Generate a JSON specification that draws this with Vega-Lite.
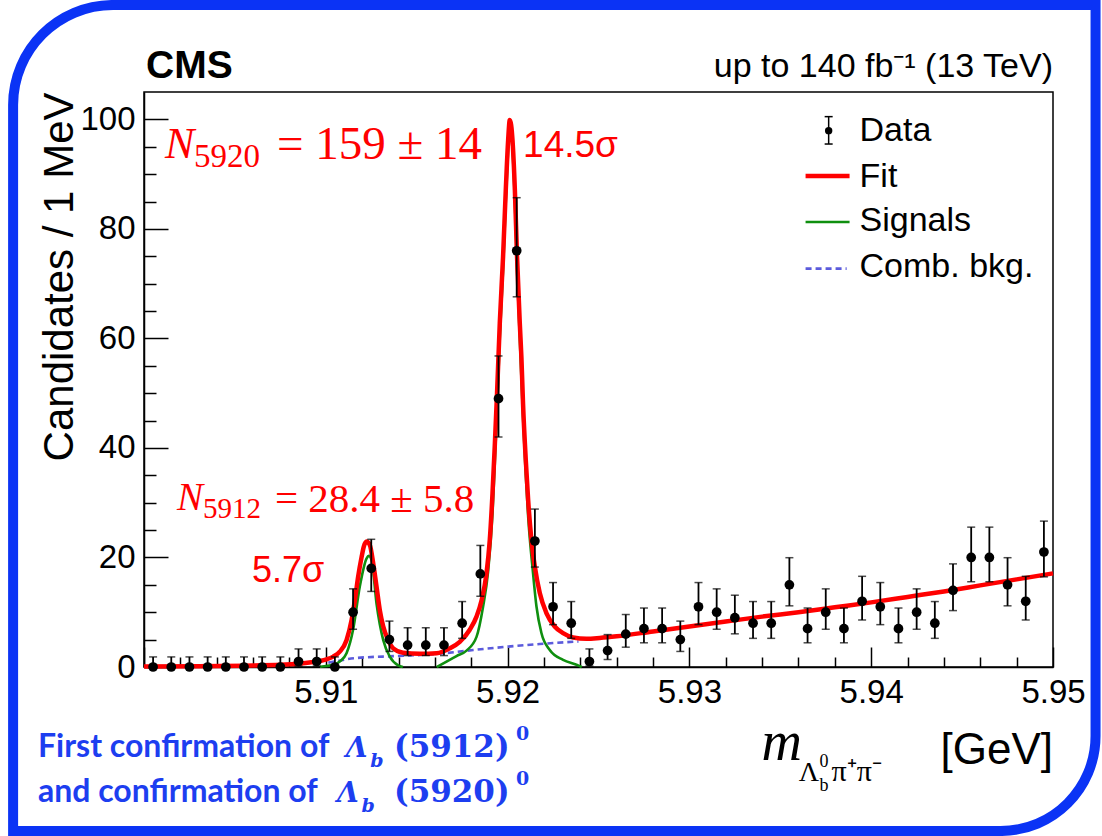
{
  "$schema": "https://vega.github.io/schema/vega-lite/v6.json",
  "width": 909,
  "height": 575,
  "autosize": {"type": "none"},
  "padding": {"left": 144, "top": 92, "right": 49, "bottom": 169},
  "background": "white",
  "config": {
    "view": {"stroke": "black", "strokeWidth": 1.5},
    "font": "Liberation Sans",
    "axis": {"labelOverlap": false}
  },
  "datasets": {
    "one": [{}],
    "pts": [
      {"m": 5.9005, "n": 0, "lo": 0, "hi": 1.841},
      {"m": 5.9015, "n": 0, "lo": 0, "hi": 1.841},
      {"m": 5.9025, "n": 0, "lo": 0, "hi": 1.841},
      {"m": 5.9035, "n": 0, "lo": 0, "hi": 1.841},
      {"m": 5.9045, "n": 0, "lo": 0, "hi": 1.841},
      {"m": 5.9055, "n": 0, "lo": 0, "hi": 1.841},
      {"m": 5.9065, "n": 0, "lo": 0, "hi": 1.841},
      {"m": 5.9075, "n": 0, "lo": 0, "hi": 1.841},
      {"m": 5.9085, "n": 1, "lo": 0.173, "hi": 3.3},
      {"m": 5.9095, "n": 1, "lo": 0.173, "hi": 3.3},
      {"m": 5.9105, "n": 0, "lo": 0, "hi": 1.841},
      {"m": 5.9115, "n": 10, "lo": 6.891, "hi": 14.27},
      {"m": 5.9125, "n": 18, "lo": 13.8, "hi": 23.32},
      {"m": 5.9135, "n": 5, "lo": 2.84, "hi": 8.382},
      {"m": 5.9145, "n": 4, "lo": 2.086, "hi": 7.163},
      {"m": 5.9155, "n": 4, "lo": 2.086, "hi": 7.163},
      {"m": 5.9165, "n": 4, "lo": 2.086, "hi": 7.163},
      {"m": 5.9175, "n": 8, "lo": 5.232, "hi": 11.95},
      {"m": 5.9185, "n": 17, "lo": 12.92, "hi": 22.2},
      {"m": 5.9195, "n": 49, "lo": 42.0, "hi": 56.8},
      {"m": 5.9205, "n": 76, "lo": 67.6, "hi": 85.7},
      {"m": 5.9215, "n": 23, "lo": 18.25, "hi": 28.84},
      {"m": 5.9225, "n": 11, "lo": 7.734, "hi": 15.42},
      {"m": 5.9235, "n": 8, "lo": 5.232, "hi": 11.95},
      {"m": 5.9245, "n": 1, "lo": 0.173, "hi": 3.3},
      {"m": 5.9255, "n": 3, "lo": 1.367, "hi": 5.918},
      {"m": 5.9265, "n": 6, "lo": 3.62, "hi": 9.584},
      {"m": 5.9275, "n": 7, "lo": 4.419, "hi": 10.77},
      {"m": 5.9285, "n": 7, "lo": 4.419, "hi": 10.77},
      {"m": 5.9295, "n": 5, "lo": 2.84, "hi": 8.382},
      {"m": 5.9305, "n": 11, "lo": 7.734, "hi": 15.42},
      {"m": 5.9315, "n": 10, "lo": 6.891, "hi": 14.27},
      {"m": 5.9325, "n": 9, "lo": 6.057, "hi": 13.11},
      {"m": 5.9335, "n": 8, "lo": 5.232, "hi": 11.95},
      {"m": 5.9345, "n": 8, "lo": 5.232, "hi": 11.95},
      {"m": 5.9355, "n": 15, "lo": 11.17, "hi": 19.96},
      {"m": 5.9365, "n": 7, "lo": 4.419, "hi": 10.77},
      {"m": 5.9375, "n": 10, "lo": 6.891, "hi": 14.27},
      {"m": 5.9385, "n": 7, "lo": 4.419, "hi": 10.77},
      {"m": 5.9395, "n": 12, "lo": 8.585, "hi": 16.56},
      {"m": 5.9405, "n": 11, "lo": 7.734, "hi": 15.42},
      {"m": 5.9415, "n": 7, "lo": 4.419, "hi": 10.77},
      {"m": 5.9425, "n": 10, "lo": 6.891, "hi": 14.27},
      {"m": 5.9435, "n": 8, "lo": 5.232, "hi": 11.95},
      {"m": 5.9445, "n": 14, "lo": 10.3, "hi": 18.83},
      {"m": 5.9455, "n": 20, "lo": 15.57, "hi": 25.54},
      {"m": 5.9465, "n": 20, "lo": 15.57, "hi": 25.54},
      {"m": 5.9475, "n": 15, "lo": 11.17, "hi": 19.96},
      {"m": 5.9485, "n": 12, "lo": 8.585, "hi": 16.56},
      {"m": 5.9495, "n": 21, "lo": 16.46, "hi": 26.64}
    ],
    "fit": [
      {"m": 5.9, "v": 0.1}, {"m": 5.903, "v": 0.15}, {"m": 5.9055, "v": 0.25}, {"m": 5.9075, "v": 0.4},
      {"m": 5.9085, "v": 0.6}, {"m": 5.9092, "v": 0.85}, {"m": 5.90968, "v": 1.1}, {"m": 5.91004, "v": 1.4},
      {"m": 5.91041, "v": 1.9}, {"m": 5.91077, "v": 2.8}, {"m": 5.91114, "v": 4.9}, {"m": 5.91142, "v": 8.6},
      {"m": 5.9116, "v": 12.2}, {"m": 5.91178, "v": 16.5}, {"m": 5.91197, "v": 20.1}, {"m": 5.91209, "v": 22.0},
      {"m": 5.91224, "v": 22.9}, {"m": 5.91242, "v": 22.3}, {"m": 5.91261, "v": 18.9}, {"m": 5.91279, "v": 14.7},
      {"m": 5.91297, "v": 10.4}, {"m": 5.91316, "v": 7.4}, {"m": 5.91343, "v": 4.9}, {"m": 5.91371, "v": 3.4},
      {"m": 5.91425, "v": 2.6}, {"m": 5.91517, "v": 2.4}, {"m": 5.91609, "v": 2.5}, {"m": 5.91682, "v": 3.4},
      {"m": 5.91737, "v": 4.6}, {"m": 5.91792, "v": 6.8}, {"m": 5.91829, "v": 9.2}, {"m": 5.91857, "v": 12.2},
      {"m": 5.91884, "v": 17.1}, {"m": 5.91902, "v": 23.2}, {"m": 5.91917, "v": 31.7}, {"m": 5.9193, "v": 40.8},
      {"m": 5.91942, "v": 50}, {"m": 5.91957, "v": 62.8}, {"m": 5.91975, "v": 74.9}, {"m": 5.9199, "v": 87.1},
      {"m": 5.92003, "v": 96.2}, {"m": 5.92012, "v": 99.9}, {"m": 5.92027, "v": 96.2}, {"m": 5.9204, "v": 87.1},
      {"m": 5.92052, "v": 74.9}, {"m": 5.92067, "v": 62.8}, {"m": 5.92076, "v": 56.5}, {"m": 5.92085, "v": 48},
      {"m": 5.921, "v": 37.8}, {"m": 5.92113, "v": 30.5}, {"m": 5.92131, "v": 23.2}, {"m": 5.9215, "v": 18.3},
      {"m": 5.92177, "v": 13.5}, {"m": 5.92214, "v": 9.8}, {"m": 5.92259, "v": 7.4}, {"m": 5.92305, "v": 6.2},
      {"m": 5.9236, "v": 5.4}, {"m": 5.92434, "v": 5.15}, {"m": 5.92507, "v": 5.3}, {"m": 5.926, "v": 5.6},
      {"m": 5.928, "v": 6.5}, {"m": 5.93, "v": 7.4}, {"m": 5.932, "v": 8.3}, {"m": 5.934, "v": 9.2},
      {"m": 5.936, "v": 10.0}, {"m": 5.938, "v": 10.9}, {"m": 5.94, "v": 11.8}, {"m": 5.942, "v": 12.8},
      {"m": 5.944, "v": 13.8}, {"m": 5.946, "v": 14.9}, {"m": 5.948, "v": 16.0}, {"m": 5.95, "v": 17.1}
    ],
    "sig": [
      {"p": "a", "m": 5.90968, "v": 0.05}, {"p": "a", "m": 5.91041, "v": 0.4}, {"p": "a", "m": 5.91077, "v": 1.0},
      {"p": "a", "m": 5.91114, "v": 2.5}, {"p": "a", "m": 5.9115, "v": 6.8}, {"p": "a", "m": 5.91187, "v": 14.7},
      {"p": "a", "m": 5.91224, "v": 19.8}, {"p": "a", "m": 5.91237, "v": 20.3}, {"p": "a", "m": 5.91252, "v": 19.5},
      {"p": "a", "m": 5.91279, "v": 11.6}, {"p": "a", "m": 5.91316, "v": 4.9}, {"p": "a", "m": 5.91352, "v": 1.9},
      {"p": "a", "m": 5.91398, "v": 0.3}, {"p": "a", "m": 5.91424, "v": 0.0},
      {"p": "b", "m": 5.9161, "v": 0.0}, {"p": "b", "m": 5.91664, "v": 1.0}, {"p": "b", "m": 5.91719, "v": 2.0},
      {"p": "b", "m": 5.91774, "v": 3.0}, {"p": "b", "m": 5.91829, "v": 5.5}, {"p": "b", "m": 5.91865, "v": 11},
      {"p": "b", "m": 5.91893, "v": 17.5}, {"p": "b", "m": 5.91917, "v": 28}, {"p": "b", "m": 5.9193, "v": 37.5},
      {"p": "b", "m": 5.91942, "v": 47}, {"p": "b", "m": 5.91957, "v": 60}, {"p": "b", "m": 5.91975, "v": 72.5},
      {"p": "b", "m": 5.9199, "v": 85}, {"p": "b", "m": 5.92003, "v": 94.5}, {"p": "b", "m": 5.92012, "v": 99.6},
      {"p": "b", "m": 5.92027, "v": 94.5}, {"p": "b", "m": 5.9204, "v": 85}, {"p": "b", "m": 5.92052, "v": 72.5},
      {"p": "b", "m": 5.92067, "v": 60}, {"p": "b", "m": 5.92085, "v": 45.5}, {"p": "b", "m": 5.921, "v": 35},
      {"p": "b", "m": 5.92113, "v": 27.5}, {"p": "b", "m": 5.9214, "v": 17.1}, {"p": "b", "m": 5.92159, "v": 11},
      {"p": "b", "m": 5.92186, "v": 6.2}, {"p": "b", "m": 5.92232, "v": 3.1}, {"p": "b", "m": 5.92305, "v": 1.3},
      {"p": "b", "m": 5.92379, "v": 0.4}, {"p": "b", "m": 5.92408, "v": 0.0}
    ],
    "bkg": [
      {"m": 5.91014, "v": 0.8}, {"m": 5.9105, "v": 1.0}, {"m": 5.91154, "v": 1.6}, {"m": 5.91389, "v": 2.0},
      {"m": 5.91572, "v": 2.3}, {"m": 5.91719, "v": 2.75}, {"m": 5.91811, "v": 3.1}, {"m": 5.91995, "v": 3.7},
      {"m": 5.92177, "v": 4.2}, {"m": 5.9236, "v": 4.6}, {"m": 5.9239, "v": 4.65}
    ]
  },
  "resolve": {"axis": {"x": "independent", "y": "independent"}},
  "layer": [
    {
      "layer": [
        {
          "data": {"name": "one"},
          "mark": {"type": "rect", "fillOpacity": 0, "stroke": "#0b33f5", "strokeWidth": 10, "cornerRadiusTopLeft": 100, "cornerRadiusBottomRight": 95},
          "encoding": {
            "x": {"datum": 5.8928, "type": "quantitative"},
            "x2": {"datum": 5.95234},
            "y": {"datum": 120.89, "type": "quantitative"},
            "y2": {"datum": -29.95}
          }
        },
        {
          "data": {"name": "bkg"},
          "mark": {"type": "line", "color": "#5b5bdc", "strokeWidth": 2.6, "strokeDash": [6, 4], "interpolate": "monotone"},
          "encoding": {
            "x": {"field": "m", "type": "quantitative"},
            "y": {"field": "v", "type": "quantitative"}
          }
        },
        {
          "data": {"name": "sig"},
          "mark": {"type": "line", "color": "#0f8f0f", "strokeWidth": 2.6, "interpolate": "monotone"},
          "encoding": {
            "x": {"field": "m", "type": "quantitative"},
            "y": {"field": "v", "type": "quantitative"},
            "detail": {"field": "p"}
          }
        },
        {
          "data": {"name": "fit"},
          "mark": {"type": "line", "color": "#ff0000", "strokeWidth": 4.5, "interpolate": "monotone"},
          "encoding": {
            "x": {"field": "m", "type": "quantitative"},
            "y": {"field": "v", "type": "quantitative"}
          }
        },
        {
          "data": {"name": "pts"},
          "mark": {"type": "errorbar", "color": "black", "ticks": {"size": 8, "thickness": 1.5, "color": "black"}, "rule": {"strokeWidth": 1.8}},
          "encoding": {
            "x": {"field": "m", "type": "quantitative", "title": null},
            "y": {"field": "lo", "type": "quantitative", "title": "Candidates / 1 MeV"},
            "y2": {"field": "hi"}
          }
        },
        {
          "data": {"name": "pts"},
          "mark": {"type": "point", "filled": true, "color": "black", "size": 95, "opacity": 1},
          "encoding": {
            "x": {
              "field": "m", "type": "quantitative", "title": null,
              "scale": {"domain": [5.9, 5.95], "nice": false, "zero": false},
              "axis": {
                "orient": "bottom",
                "title": null,
                "values": [5.9, 5.91, 5.92, 5.93, 5.94, 5.95],
                "grid": false,
                "domainColor": "black", "domainWidth": 1.5,
                "tickColor": "black", "tickWidth": 1.5, "tickSize": -20,
                "labelExpr": "datum.value > 5.905 ? format(datum.value, '.2f') : ''",
                "labelFont": "Liberation Sans", "labelFontSize": 33, "labelColor": "black",
                "labelPadding": 29, "labelFlush": false, "labelOverlap": false, "labelBound": false
              }
            },
            "y": {
              "field": "n", "type": "quantitative", "title": "Candidates / 1 MeV",
              "scale": {"domain": [0, 105], "nice": false, "zero": false},
              "axis": {
                "orient": "left",
                "title": "Candidates / 1 MeV",
                "titleFont": "Liberation Sans", "titleFontSize": 42, "titleFontWeight": "normal", "titleColor": "black",
                "titleAngle": 270, "titleAlign": "right", "titleBaseline": "alphabetic", "titleX": -72, "titleY": 0,
                "values": [0, 20, 40, 60, 80, 100],
                "grid": false,
                "domainColor": "black", "domainWidth": 1.5,
                "tickColor": "black", "tickWidth": 1.5, "tickSize": -24,
                "labelFont": "Liberation Sans", "labelFontSize": 33, "labelColor": "black",
                "labelPadding": 33, "labelOverlap": false, "labelBound": false
              }
            }
          }
        },
        {
          "data": {"name": "one"},
          "mark": {"type": "rule", "color": "black", "strokeWidth": 1.5},
          "encoding": {"x": {"datum": 5.93766, "type": "quantitative"}, "y": {"datum": 100.5, "type": "quantitative"}, "y2": {"datum": 95.5}}
        },
        {
          "data": {"name": "one"},
          "mark": {"type": "rule", "color": "black", "strokeWidth": 1.5},
          "encoding": {"x": {"datum": 5.93744, "type": "quantitative"}, "x2": {"datum": 5.93788}, "y": {"datum": 100.5, "type": "quantitative"}}
        },
        {
          "data": {"name": "one"},
          "mark": {"type": "rule", "color": "black", "strokeWidth": 1.5},
          "encoding": {"x": {"datum": 5.93744, "type": "quantitative"}, "x2": {"datum": 5.93788}, "y": {"datum": 95.5, "type": "quantitative"}}
        },
        {
          "data": {"name": "one"},
          "mark": {"type": "point", "filled": true, "color": "black", "size": 55, "opacity": 1},
          "encoding": {"x": {"datum": 5.93766, "type": "quantitative"}, "y": {"datum": 97.94, "type": "quantitative"}}
        },
        {
          "data": {"name": "one"},
          "mark": {"type": "rule", "color": "#ff0000", "strokeWidth": 4.5},
          "encoding": {"x": {"datum": 5.93639, "type": "quantitative"}, "x2": {"datum": 5.93881}, "y": {"datum": 89.66, "type": "quantitative"}}
        },
        {
          "data": {"name": "one"},
          "mark": {"type": "rule", "color": "#0f8f0f", "strokeWidth": 2.6},
          "encoding": {"x": {"datum": 5.93639, "type": "quantitative"}, "x2": {"datum": 5.93881}, "y": {"datum": 81.26, "type": "quantitative"}}
        },
        {
          "data": {"name": "one"},
          "mark": {"type": "rule", "color": "#5b5bdc", "strokeWidth": 2.6, "strokeDash": [6, 4]},
          "encoding": {"x": {"datum": 5.93639, "type": "quantitative"}, "x2": {"datum": 5.93865}, "y": {"datum": 72.74, "type": "quantitative"}}
        },
        {
          "data": {"name": "one"},
          "mark": {"type": "text", "text": "Data", "font": "Liberation Sans", "fontSize": 34, "align": "left", "baseline": "alphabetic", "color": "black"},
          "encoding": {"x": {"datum": 5.93936, "type": "quantitative"}, "y": {"datum": 96.06, "type": "quantitative"}}
        },
        {
          "data": {"name": "one"},
          "mark": {"type": "text", "text": "Fit", "font": "Liberation Sans", "fontSize": 34, "align": "left", "baseline": "alphabetic", "color": "black"},
          "encoding": {"x": {"datum": 5.93936, "type": "quantitative"}, "y": {"datum": 87.66, "type": "quantitative"}}
        },
        {
          "data": {"name": "one"},
          "mark": {"type": "text", "text": "Signals", "font": "Liberation Sans", "fontSize": 34, "align": "left", "baseline": "alphabetic", "color": "black"},
          "encoding": {"x": {"datum": 5.93936, "type": "quantitative"}, "y": {"datum": 79.62, "type": "quantitative"}}
        },
        {
          "data": {"name": "one"},
          "mark": {"type": "text", "text": "Comb. bkg.", "font": "Liberation Sans", "fontSize": 34, "align": "left", "baseline": "alphabetic", "color": "black"},
          "encoding": {"x": {"datum": 5.93936, "type": "quantitative"}, "y": {"datum": 71.22, "type": "quantitative"}}
        },
        {
          "data": {"name": "one"},
          "mark": {"type": "text", "text": "CMS", "font": "Liberation Sans", "fontSize": 39, "fontWeight": "bold", "align": "left", "baseline": "alphabetic", "color": "black"},
          "encoding": {"x": {"datum": 5.90011, "type": "quantitative"}, "y": {"datum": 107.56, "type": "quantitative"}}
        },
        {
          "data": {"name": "one"},
          "mark": {"type": "text", "text": "up to 140 fb⁻¹ (13 TeV)", "font": "Liberation Sans", "fontSize": 34, "align": "right", "baseline": "alphabetic", "color": "black"},
          "encoding": {"x": {"datum": 5.95, "type": "quantitative"}, "y": {"datum": 107.74, "type": "quantitative"}}
        },
        {
          "data": {"name": "one"},
          "mark": {"type": "text", "text": "N", "font": "Liberation Serif", "fontSize": 44, "fontStyle": "italic", "align": "left", "baseline": "alphabetic", "color": "#ff0000"},
          "encoding": {"x": {"datum": 5.90115, "type": "quantitative"}, "y": {"datum": 92.95, "type": "quantitative"}}
        },
        {
          "data": {"name": "one"},
          "mark": {"type": "text", "text": "5920", "font": "Liberation Serif", "fontSize": 33, "align": "left", "baseline": "alphabetic", "color": "#ff0000"},
          "encoding": {"x": {"datum": 5.90275, "type": "quantitative"}, "y": {"datum": 91.3, "type": "quantitative"}}
        },
        {
          "data": {"name": "one"},
          "mark": {"type": "text", "text": "= 159 ± 14", "font": "Liberation Serif", "fontSize": 47, "align": "left", "baseline": "alphabetic", "color": "#ff0000"},
          "encoding": {"x": {"datum": 5.90731, "type": "quantitative"}, "y": {"datum": 92.77, "type": "quantitative"}}
        },
        {
          "data": {"name": "one"},
          "mark": {"type": "text", "text": "14.5σ", "font": "Liberation Sans", "fontSize": 37, "align": "left", "baseline": "alphabetic", "color": "#ff0000"},
          "encoding": {"x": {"datum": 5.92085, "type": "quantitative"}, "y": {"datum": 93.1, "type": "quantitative"}}
        },
        {
          "data": {"name": "one"},
          "mark": {"type": "text", "text": "N", "font": "Liberation Serif", "fontSize": 39, "fontStyle": "italic", "align": "left", "baseline": "alphabetic", "color": "#ff0000"},
          "encoding": {"x": {"datum": 5.90181, "type": "quantitative"}, "y": {"datum": 28.67, "type": "quantitative"}}
        },
        {
          "data": {"name": "one"},
          "mark": {"type": "text", "text": "5912", "font": "Liberation Serif", "fontSize": 29, "align": "left", "baseline": "alphabetic", "color": "#ff0000"},
          "encoding": {"x": {"datum": 5.90324, "type": "quantitative"}, "y": {"datum": 27.2, "type": "quantitative"}}
        },
        {
          "data": {"name": "one"},
          "mark": {"type": "text", "text": "= 28.4 ± 5.8", "font": "Liberation Serif", "fontSize": 41, "align": "left", "baseline": "alphabetic", "color": "#ff0000"},
          "encoding": {"x": {"datum": 5.9072, "type": "quantitative"}, "y": {"datum": 28.3, "type": "quantitative"}}
        },
        {
          "data": {"name": "one"},
          "mark": {"type": "text", "text": "5.7σ", "font": "Liberation Sans", "fontSize": 36, "align": "left", "baseline": "alphabetic", "color": "#ff0000"},
          "encoding": {"x": {"datum": 5.90594, "type": "quantitative"}, "y": {"datum": 15.5, "type": "quantitative"}}
        },
        {
          "data": {"name": "one"},
          "mark": {"type": "text", "text": "m", "font": "Liberation Serif", "fontSize": 56, "fontStyle": "italic", "align": "left", "baseline": "alphabetic", "color": "black"},
          "encoding": {"x": {"datum": 5.93397, "type": "quantitative"}, "y": {"datum": -16.98, "type": "quantitative"}}
        },
        {
          "data": {"name": "one"},
          "mark": {"type": "text", "text": "Λ", "font": "Liberation Serif", "fontSize": 28, "align": "left", "baseline": "alphabetic", "color": "black"},
          "encoding": {"x": {"datum": 5.93601, "type": "quantitative"}, "y": {"datum": -20.8, "type": "quantitative"}}
        },
        {
          "data": {"name": "one"},
          "mark": {"type": "text", "text": "0", "font": "Liberation Serif", "fontSize": 18, "align": "left", "baseline": "alphabetic", "color": "black"},
          "encoding": {"x": {"datum": 5.93716, "type": "quantitative"}, "y": {"datum": -18.2, "type": "quantitative"}}
        },
        {
          "data": {"name": "one"},
          "mark": {"type": "text", "text": "b", "font": "Liberation Serif", "fontSize": 18, "align": "left", "baseline": "alphabetic", "color": "black"},
          "encoding": {"x": {"datum": 5.93716, "type": "quantitative"}, "y": {"datum": -22.6, "type": "quantitative"}}
        },
        {
          "data": {"name": "one"},
          "mark": {"type": "text", "text": "π⁺π⁻", "font": "Liberation Serif", "fontSize": 30, "align": "left", "baseline": "alphabetic", "color": "black"},
          "encoding": {"x": {"datum": 5.93782, "type": "quantitative"}, "y": {"datum": -20.8, "type": "quantitative"}}
        },
        {
          "data": {"name": "one"},
          "mark": {"type": "text", "text": "[GeV]", "font": "Liberation Sans", "fontSize": 44, "align": "right", "baseline": "alphabetic", "color": "black"},
          "encoding": {"x": {"datum": 5.95, "type": "quantitative"}, "y": {"datum": -17.7, "type": "quantitative"}}
        },
        {
          "data": {"name": "one"},
          "mark": {"type": "text", "text": "First confirmation of", "font": "Lato", "fontSize": 32, "fontWeight": "bold", "align": "left", "baseline": "alphabetic", "color": "#1d3ef0"},
          "encoding": {"x": {"datum": 5.89417, "type": "quantitative"}, "y": {"datum": -16.44, "type": "quantitative"}}
        },
        {
          "data": {"name": "one"},
          "mark": {"type": "text", "text": "Λ", "font": "DejaVu Serif", "fontSize": 28, "fontStyle": "italic", "fontWeight": "bold", "align": "left", "baseline": "alphabetic", "color": "#1d3ef0"},
          "encoding": {"x": {"datum": 5.9111, "type": "quantitative"}, "y": {"datum": -16.44, "type": "quantitative"}}
        },
        {
          "data": {"name": "one"},
          "mark": {"type": "text", "text": "b", "font": "DejaVu Serif", "fontSize": 19, "fontStyle": "italic", "fontWeight": "bold", "align": "left", "baseline": "alphabetic", "color": "#1d3ef0"},
          "encoding": {"x": {"datum": 5.91245, "type": "quantitative"}, "y": {"datum": -18.2, "type": "quantitative"}}
        },
        {
          "data": {"name": "one"},
          "mark": {"type": "text", "text": "(5912)", "font": "DejaVu Serif", "fontSize": 31, "fontWeight": "bold", "align": "left", "baseline": "alphabetic", "color": "#1d3ef0"},
          "encoding": {"x": {"datum": 5.91375, "type": "quantitative"}, "y": {"datum": -16.44, "type": "quantitative"}}
        },
        {
          "data": {"name": "one"},
          "mark": {"type": "text", "text": "0", "font": "DejaVu Serif", "fontSize": 19, "fontWeight": "bold", "align": "left", "baseline": "alphabetic", "color": "#1d3ef0"},
          "encoding": {"x": {"datum": 5.92046, "type": "quantitative"}, "y": {"datum": -13.3, "type": "quantitative"}}
        },
        {
          "data": {"name": "one"},
          "mark": {"type": "text", "text": "and confirmation of", "font": "Lato", "fontSize": 32, "fontWeight": "bold", "align": "left", "baseline": "alphabetic", "color": "#1d3ef0"},
          "encoding": {"x": {"datum": 5.89417, "type": "quantitative"}, "y": {"datum": -24.65, "type": "quantitative"}}
        },
        {
          "data": {"name": "one"},
          "mark": {"type": "text", "text": "Λ", "font": "DejaVu Serif", "fontSize": 28, "fontStyle": "italic", "fontWeight": "bold", "align": "left", "baseline": "alphabetic", "color": "#1d3ef0"},
          "encoding": {"x": {"datum": 5.91062, "type": "quantitative"}, "y": {"datum": -24.65, "type": "quantitative"}}
        },
        {
          "data": {"name": "one"},
          "mark": {"type": "text", "text": "b", "font": "DejaVu Serif", "fontSize": 19, "fontStyle": "italic", "fontWeight": "bold", "align": "left", "baseline": "alphabetic", "color": "#1d3ef0"},
          "encoding": {"x": {"datum": 5.91197, "type": "quantitative"}, "y": {"datum": -26.4, "type": "quantitative"}}
        },
        {
          "data": {"name": "one"},
          "mark": {"type": "text", "text": "(5920)", "font": "DejaVu Serif", "fontSize": 31, "fontWeight": "bold", "align": "left", "baseline": "alphabetic", "color": "#1d3ef0"},
          "encoding": {"x": {"datum": 5.91375, "type": "quantitative"}, "y": {"datum": -24.65, "type": "quantitative"}}
        },
        {
          "data": {"name": "one"},
          "mark": {"type": "text", "text": "0", "font": "DejaVu Serif", "fontSize": 19, "fontWeight": "bold", "align": "left", "baseline": "alphabetic", "color": "#1d3ef0"},
          "encoding": {"x": {"datum": 5.92046, "type": "quantitative"}, "y": {"datum": -21.5, "type": "quantitative"}}
        }
      ]
    },
    {
      "data": {"name": "one"},
      "mark": {"type": "point", "opacity": 0},
      "encoding": {
        "x": {
          "datum": 5.92, "type": "quantitative",
          "axis": {
            "orient": "bottom", "title": null, "labels": false, "domain": false, "grid": false,
            "values": [5.902, 5.904, 5.906, 5.908, 5.912, 5.914, 5.916, 5.918, 5.922, 5.924, 5.926, 5.928, 5.932, 5.934, 5.936, 5.938, 5.942, 5.944, 5.946, 5.948],
            "tickColor": "black", "tickWidth": 1.5, "tickSize": -10
          }
        },
        "y": {
          "datum": 0, "type": "quantitative",
          "axis": {
            "orient": "left", "title": null, "labels": false, "domain": false, "grid": false,
            "values": [5, 10, 15, 25, 30, 35, 45, 50, 55, 65, 70, 75, 85, 90, 95],
            "tickColor": "black", "tickWidth": 1.5, "tickSize": -12
          }
        }
      }
    }
  ]
}
